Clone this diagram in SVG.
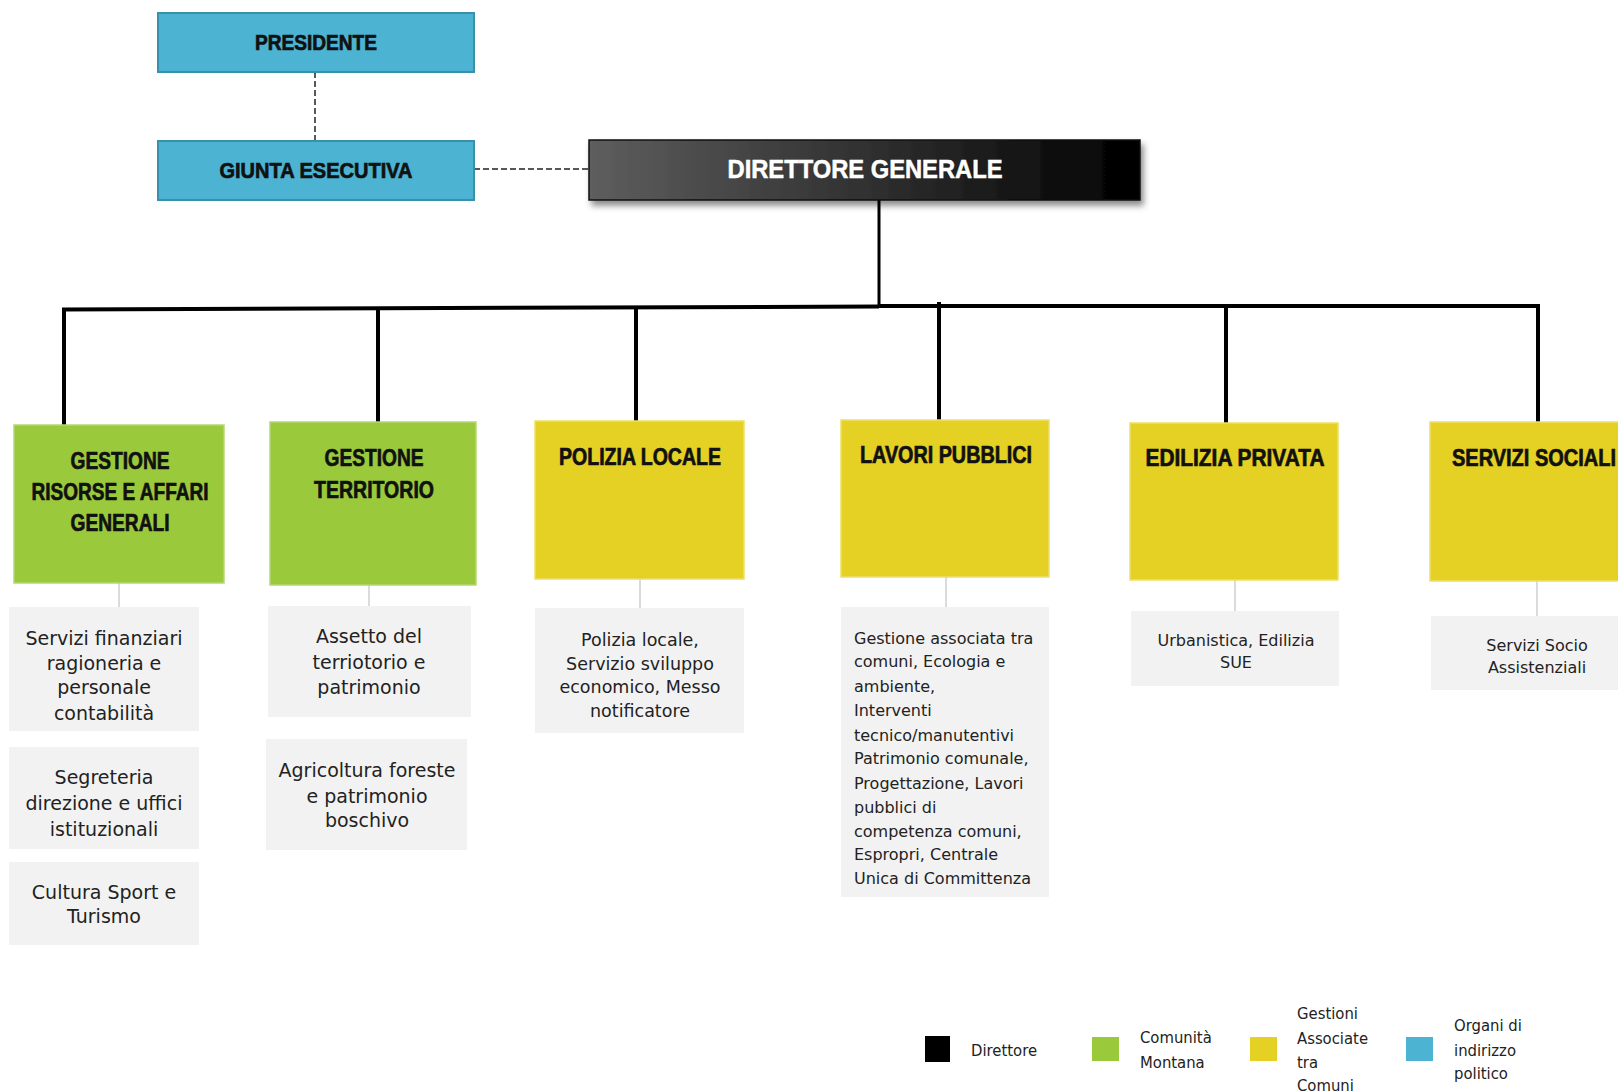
<svg xmlns="http://www.w3.org/2000/svg" width="1618" height="1092" viewBox="0 0 1618 1092">
<defs>
<linearGradient id="dg" x1="0" y1="0" x2="1" y2="0">
<stop offset="0" stop-color="#5e5e5e"/>
<stop offset="0.55" stop-color="#2c2c2c"/>
<stop offset="1" stop-color="#000"/>
</linearGradient>
<filter id="sh" x="-5%" y="-20%" width="115%" height="160%">
<feDropShadow dx="3" dy="5" stdDeviation="3" flood-color="#000" flood-opacity="0.45"/>
</filter>
</defs>
<style>
.blue{fill:#4db3d2;stroke:#3a8fab;stroke-width:2}
.green{fill:#9aca3c;stroke:#b5d872;stroke-width:1.5}
.yellow{fill:#e5d024;stroke:#eede6a;stroke-width:1.5}
.sub{fill:#f2f2f2}
.ttl{font-family:"Liberation Sans",Arial,sans-serif;font-weight:bold;font-size:24px;fill:#111;stroke:#111;stroke-width:0.7;text-anchor:middle}
.top{font-family:"Liberation Sans",Arial,sans-serif;font-weight:bold;font-size:22px;fill:#111;stroke:#111;stroke-width:0.7;text-anchor:middle}
.st{font-family:"DejaVu Sans",sans-serif;font-size:19px;fill:#222;text-anchor:middle}
.sp{font-family:"DejaVu Sans",sans-serif;font-size:17.5px;fill:#222;text-anchor:middle}
.ss{font-family:"DejaVu Sans",sans-serif;font-size:16px;fill:#222;text-anchor:middle}
.sl{font-family:"DejaVu Sans",sans-serif;font-size:16px;fill:#222}
.lg{font-family:"DejaVu Sans Condensed","DejaVu Sans",sans-serif;font-stretch:condensed;font-size:16.5px;fill:#222}
.thick{stroke:#000;stroke-width:4;fill:none}
.dash{stroke:#222;stroke-width:1.5;stroke-dasharray:6,3;fill:none}
.thin{stroke:#d0d0d0;stroke-width:1.5;fill:none}
</style>
<g id="connectors">
<path class="dash" d="M315 72V141"/>
<path class="dash" d="M474 169H589"/>
<path d="M879 200V307" stroke="#000" stroke-width="3" fill="none"/>
<path class="thick" d="M62 309.5L879 306.5"/>
<path class="thick" d="M879 306H1540"/>
<path class="thick" d="M64 309V425M378 308V422M636 307V421M939 302V420M1226 306V423M1538 306V422"/>
<path class="thin" d="M119 583V607M369 585V606M640 579V608M946 577V607M1235 580V611M1537 581V616"/>
</g>
<g id="presidente">
<rect class="blue" x="158" y="13" width="316" height="59"/>
<text class="top" x="316" y="50" textLength="122" lengthAdjust="spacingAndGlyphs">PRESIDENTE</text>
</g>
<g id="giunta">
<rect class="blue" x="158" y="141" width="316" height="59"/>
<text class="top" x="316" y="178" textLength="193" lengthAdjust="spacingAndGlyphs">GIUNTA ESECUTIVA</text>
</g>
<g id="direttore">
<rect x="589" y="140" width="551" height="60" fill="url(#dg)" stroke="#111" stroke-width="1.5" filter="url(#sh)"/>
<text x="865" y="178" font-family="Liberation Sans, Arial, sans-serif" font-weight="bold" font-size="25" fill="#fff" stroke="#fff" stroke-width="0.5" text-anchor="middle" textLength="275" lengthAdjust="spacingAndGlyphs">DIRETTORE GENERALE</text>
</g>
<g id="risorse">
<rect class="green" x="14" y="425" width="210" height="158"/>
<text class="ttl" x="120" y="469" textLength="99" lengthAdjust="spacingAndGlyphs">GESTIONE</text>
<text class="ttl" x="120" y="500" textLength="177" lengthAdjust="spacingAndGlyphs">RISORSE E AFFARI</text>
<text class="ttl" x="120" y="531" textLength="99" lengthAdjust="spacingAndGlyphs">GENERALI</text>
</g>
<g id="risorse-sub1">
<rect class="sub" x="9" y="607" width="190" height="124"/>
<text class="st" x="104" y="645">Servizi finanziari</text>
<text class="st" x="104" y="670">ragioneria e</text>
<text class="st" x="104" y="694">personale</text>
<text class="st" x="104" y="720">contabilità</text>
</g>
<g id="risorse-sub2">
<rect class="sub" x="9" y="747" width="190" height="102"/>
<text class="st" x="104" y="784">Segreteria</text>
<text class="st" x="104" y="810">direzione e uffici</text>
<text class="st" x="104" y="836">istituzionali</text>
</g>
<g id="risorse-sub3">
<rect class="sub" x="9" y="862" width="190" height="83"/>
<text class="st" x="104" y="899">Cultura Sport e</text>
<text class="st" x="104" y="923">Turismo</text>
</g>
<g id="territorio">
<rect class="green" x="270" y="422" width="206" height="163"/>
<text class="ttl" x="374" y="466" textLength="99" lengthAdjust="spacingAndGlyphs">GESTIONE</text>
<text class="ttl" x="374" y="498" textLength="120" lengthAdjust="spacingAndGlyphs">TERRITORIO</text>
</g>
<g id="territorio-sub1">
<rect class="sub" x="268" y="606" width="203" height="111"/>
<text class="st" x="369" y="643">Assetto del</text>
<text class="st" x="369" y="669">terriotorio e</text>
<text class="st" x="369" y="694">patrimonio</text>
</g>
<g id="territorio-sub2">
<rect class="sub" x="266" y="739" width="201" height="111"/>
<text class="st" x="367" y="777">Agricoltura foreste</text>
<text class="st" x="367" y="803">e patrimonio</text>
<text class="st" x="367" y="827">boschivo</text>
</g>
<g id="polizia">
<rect class="yellow" x="535" y="421" width="209" height="158"/>
<text class="ttl" x="640" y="465" textLength="162" lengthAdjust="spacingAndGlyphs">POLIZIA LOCALE</text>
</g>
<g id="polizia-sub">
<rect class="sub" x="535" y="608" width="209" height="125"/>
<text class="sp" x="640" y="646">Polizia locale,</text>
<text class="sp" x="640" y="670">Servizio sviluppo</text>
<text class="sp" x="640" y="693">economico, Messo</text>
<text class="sp" x="640" y="717">notificatore</text>
</g>
<g id="lavori">
<rect class="yellow" x="841" y="420" width="208" height="157"/>
<text class="ttl" x="946" y="463" textLength="172" lengthAdjust="spacingAndGlyphs">LAVORI PUBBLICI</text>
</g>
<g id="lavori-sub">
<rect class="sub" x="841" y="607" width="208" height="290"/>
<text class="sl" x="854" y="644">Gestione associata tra</text>
<text class="sl" x="854" y="667">comuni, Ecologia e</text>
<text class="sl" x="854" y="692">ambiente,</text>
<text class="sl" x="854" y="716">Interventi</text>
<text class="sl" x="854" y="741">tecnico/manutentivi</text>
<text class="sl" x="854" y="764">Patrimonio comunale,</text>
<text class="sl" x="854" y="789">Progettazione, Lavori</text>
<text class="sl" x="854" y="813">pubblici di</text>
<text class="sl" x="854" y="837">competenza comuni,</text>
<text class="sl" x="854" y="860">Espropri, Centrale</text>
<text class="sl" x="854" y="884">Unica di Committenza</text>
</g>
<g id="edilizia">
<rect class="yellow" x="1130" y="423" width="208" height="157"/>
<text class="ttl" x="1235" y="466" textLength="179" lengthAdjust="spacingAndGlyphs">EDILIZIA PRIVATA</text>
</g>
<g id="edilizia-sub">
<rect class="sub" x="1131" y="611" width="208" height="75"/>
<text class="ss" x="1236" y="646">Urbanistica, Edilizia</text>
<text class="ss" x="1236" y="668">SUE</text>
</g>
<g id="sociali">
<rect class="yellow" x="1430" y="422" width="190" height="159"/>
<text class="ttl" x="1534" y="466" textLength="164" lengthAdjust="spacingAndGlyphs">SERVIZI SOCIALI</text>
</g>
<g id="sociali-sub">
<rect class="sub" x="1431" y="616" width="190" height="74"/>
<text class="ss" x="1537" y="651">Servizi Socio</text>
<text class="ss" x="1537" y="673">Assistenziali</text>
</g>
<g id="legend">
<rect x="925" y="1036" width="25" height="26" fill="#000"/>
<text class="lg" x="971" y="1056">Direttore</text>
<rect x="1092" y="1037" width="27" height="24" fill="#9aca3c"/>
<text class="lg" x="1140" y="1043">Comunità</text>
<text class="lg" x="1140" y="1068">Montana</text>
<rect x="1250" y="1037" width="27" height="24" fill="#e5d024"/>
<text class="lg" x="1297" y="1019">Gestioni</text>
<text class="lg" x="1297" y="1044">Associate</text>
<text class="lg" x="1297" y="1068">tra</text>
<text class="lg" x="1297" y="1091">Comuni</text>
<rect x="1406" y="1037" width="27" height="24" fill="#4db3d2"/>
<text class="lg" x="1454" y="1031">Organi di</text>
<text class="lg" x="1454" y="1056">indirizzo</text>
<text class="lg" x="1454" y="1079">politico</text>
</g>
</svg>
